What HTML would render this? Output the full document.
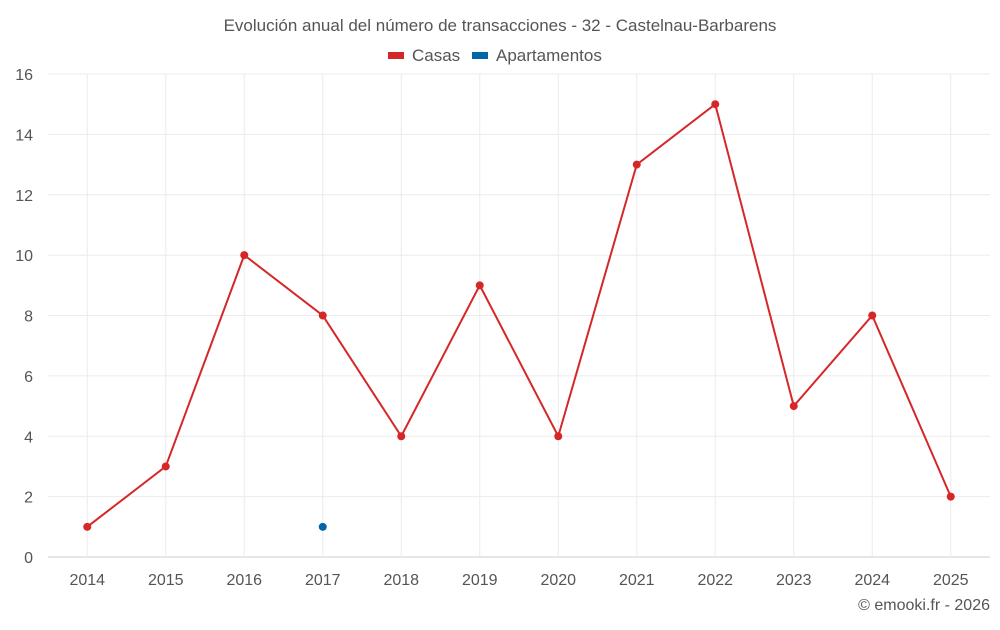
<!DOCTYPE html>
<html><head><meta charset="utf-8"><style>
body{margin:0;background:#fff;font-family:"Liberation Sans",sans-serif;}
svg text{font-family:"Liberation Sans",sans-serif;fill:#555;}
</style></head><body>
<svg id="c" width="1000" height="625">
<text x="500" y="31" text-anchor="middle" font-size="17">Evolución anual del número de transacciones - 32 - Castelnau-Barbarens</text>
<g>
<g><rect x="388" y="52" width="16" height="7" fill="#d62728"/><text x="412" y="61" font-size="17">Casas</text></g>
<g><rect x="472" y="52" width="16" height="7" fill="#0066a8"/><text x="496" y="61" font-size="17">Apartamentos</text></g>
</g>
<g id="grid"></g><g id="axes"></g><g id="series"></g>
<text x="990" y="610" text-anchor="end" font-size="16">© emooki.fr - 2026</text>
</svg>
<script>
const categories=["2014","2015","2016","2017","2018","2019","2020","2021","2022","2023","2024","2025"];
const casas=[1,3,10,8,4,9,4,13,15,5,8,2];
const apartamentos=[null,null,null,1,null,null,null,null,null,null,null,null];
const yTicks=[0,2,4,6,8,10,12,14,16];
const L=48,R=990,T=74,B=557,yMax=16;
const bw=(R-L)/categories.length;
const xs=i=>L+bw*(i+0.5);
const ys=v=>B-(v/yMax)*(B-T);
const NS="http://www.w3.org/2000/svg";
function mk(t,a,p){const e=document.createElementNS(NS,t);for(const k in a)e.setAttribute(k,a[k]);p.appendChild(e);return e;}
const g=document.getElementById('grid'),ax=document.getElementById('axes'),s=document.getElementById('series');
yTicks.forEach(v=>{
 const l=mk('line',{x1:L,x2:R,y1:ys(v),y2:ys(v),stroke:v===0?'#ccc':'#ebebeb','stroke-width':1},g);
 
 
 const t=mk('text',{x:33,y:ys(v)+6,'text-anchor':'end','font-size':16},ax);t.textContent=v;
 
 
});
categories.forEach((c,i)=>{
 const l=mk('line',{x1:xs(i),x2:xs(i),y1:T,y2:B,stroke:'#ebebeb','stroke-width':1},g);
 
 
 const t=mk('text',{x:xs(i),y:585,'text-anchor':'middle','font-size':16},ax);t.textContent=c;
 
 
});
function draw(data,color,name){
 let d='';data.forEach((v,i)=>{if(v!==null)d+=(d?'L':'M')+xs(i)+','+ys(v);});
 const p=mk('path',{d:d,fill:'none',stroke:color,'stroke-width':2},s);
 
 
 data.forEach((v,i)=>{if(v===null)return;
  const c=mk('circle',{cx:xs(i),cy:ys(v),r:4,fill:color},s);
  
  
 });
}
draw(casas,'#d62728','casas');
draw(apartamentos,'#0066a8','apartamentos');
</script>
</body></html>
